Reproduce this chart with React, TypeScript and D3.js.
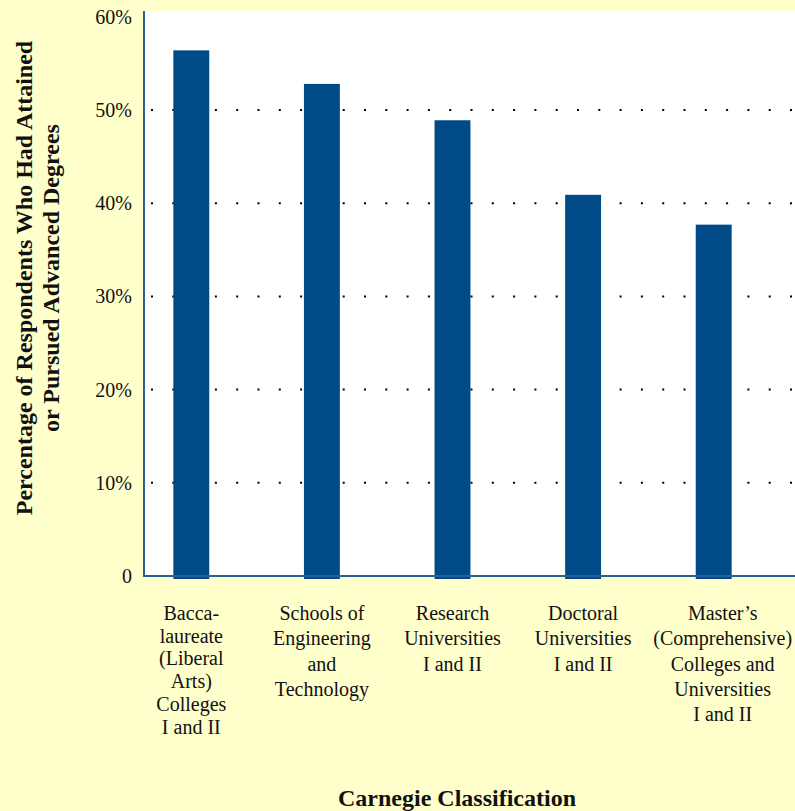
import React, { useEffect, useRef } from "react";
import * as d3 from "d3";

// chart values
const categories = [
  "Baccalaureate",
  "Engineering",
  "Research",
  "Doctoral",
  "Masters",
];
const labelLines = [
  ["Bacca-", "laureate", "(Liberal", "Arts)", "Colleges", "I and II"],
  ["Schools of", "Engineering", "and", "Technology"],
  ["Research", "Universities", "I and II"],
  ["Doctoral", "Universities", "I and II"],
  ["Master\u2019s", "(Comprehensive)", "Colleges and", "Universities", "I and II"],
];
const percentages = [56.4, 52.8, 48.9, 40.9, 37.7];
const yTicks = [0, 10, 20, 30, 40, 50, 60];
const gridTicks = [10, 20, 30, 40, 50];

const W = 795;
const H = 811;

export default function App() {
  const ref = useRef<SVGSVGElement>(null);

  useEffect(() => {
    const svg = d3.select(ref.current);
    svg.selectAll("*").remove();

    const serif = "'Liberation Serif', 'Times New Roman', Times, serif";
    const plotLeft = 144;
    const plotTop = 11;
    const plotBottom = 576;

    const y = d3.scaleLinear().domain([0, 50]).range([plotBottom, 110]);
    const x = d3
      .scaleBand()
      .domain(categories)
      .range([126, 779])
      .paddingInner(0.725)
      .paddingOuter(0.3625);

    svg.append("rect").attr("width", W).attr("height", H).attr("fill", "#ffffcc");

    // white plot area
    svg
      .append("rect")
      .attr("x", plotLeft)
      .attr("y", plotTop)
      .attr("width", W - plotLeft)
      .attr("height", plotBottom - plotTop)
      .attr("fill", "#ffffff");

    // dotted gridlines
    svg
      .selectAll(".grid")
      .data(gridTicks)
      .join("line")
      .attr("class", "grid")
      .attr("x1", 151)
      .attr("x2", W)
      .attr("y1", (d) => y(d))
      .attr("y2", (d) => y(d))
      .attr("stroke", "#000")
      .attr("stroke-width", 2)
      .attr("stroke-dasharray", "2 19.3");

    // bars
    svg
      .selectAll(".bar")
      .data(percentages)
      .join("rect")
      .attr("class", "bar")
      .attr("x", (d, i) => x(categories[i]) as number)
      .attr("width", x.bandwidth())
      .attr("y", (d) => y(d))
      .attr("height", (d) => y(0) + 3 - y(d))
      .attr("fill", "#004b87");

    // axis frame
    svg
      .append("path")
      .attr("d", `M${plotLeft},${plotTop} V${plotBottom} H${W}`)
      .attr("fill", "none")
      .attr("stroke", "#2a5f98")
      .attr("stroke-width", 2);

    // y tick labels
    svg
      .selectAll(".ytick")
      .data(yTicks)
      .join("text")
      .attr("class", "ytick")
      .attr("x", 132)
      .attr("y", (d) => y(d) + 7)
      .attr("text-anchor", "end")
      .attr("font-family", serif)
      .attr("font-size", 20)
      .attr("fill", "#111")
      .text((d) => (d === 0 ? "0" : d + "%"));

    // category labels (the last one sits a bit right of its bar in the original)
    const lab = svg
      .selectAll(".xlab")
      .data(labelLines)
      .join("text")
      .attr("class", "xlab")
      .attr("text-anchor", "middle")
      .attr("font-family", serif)
      .attr("font-size", 20)
      .attr("fill", "#111");
    lab.each(function (lines, i) {
      let cx = (x(categories[i]) as number) + x.bandwidth() / 2;
      if (i === categories.length - 1) cx += 9;
      const lh = i === 0 ? 22.7 : 25.3;
      d3.select(this)
        .selectAll("tspan")
        .data(lines)
        .join("tspan")
        .attr("x", cx)
        .attr("y", (d, j) => 620 + j * lh)
        .text((d) => d);
    });

    // axis titles
    const yTitle = svg
      .append("text")
      .attr("transform", "translate(32,278) rotate(-90)")
      .attr("text-anchor", "middle")
      .attr("font-family", serif)
      .attr("font-weight", "bold")
      .attr("font-size", 24)
      .attr("fill", "#111");
    yTitle.append("tspan").attr("x", 0).attr("y", 0).text("Percentage of Respondents Who Had Attained");
    yTitle.append("tspan").attr("x", 0).attr("y", 27).text("or Pursued Advanced Degrees");

    svg
      .append("text")
      .attr("x", 457)
      .attr("y", 806)
      .attr("text-anchor", "middle")
      .attr("font-family", serif)
      .attr("font-weight", "bold")
      .attr("font-size", 24)
      .attr("fill", "#111")
      .text("Carnegie Classification");
  }, []);

  return (
    <svg
      ref={ref}
      width={W}
      height={H}
      style={{ position: "absolute", left: 0, top: 0, display: "block" }}
    />
  );
}
